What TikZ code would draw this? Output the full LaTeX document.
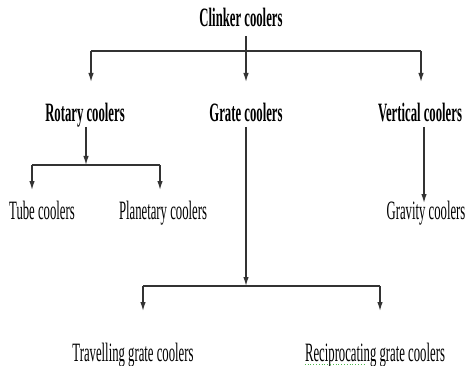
\documentclass[tikz,border=0pt]{standalone}
\usepackage{fontspec}
\setmainfont{Liberation Serif}
\newfontfamily\condfont[FakeStretch=0.48]{Liberation Serif}
\usetikzlibrary{arrows.meta}
\tikzset{
  lbl/.style={inner sep=0pt, anchor=base, font=\condfont\fontsize{26.5}{26.5}\selectfont},
  head/.style={lbl, font=\condfont\bfseries\fontsize{26.5}{26.5}\selectfont},
  ln/.style={draw=black!80, line width=1.3pt},
  arr/.style={ln, -{Latex[length=9pt,width=5.5pt]}}
}
\begin{document}
\begin{tikzpicture}[x=1pt,y=-1pt]
  \useasboundingbox (0,0) rectangle (465,366);

  % labels
  \node[head] (clinker) at (241,27) {Clinker coolers};
  \node[head] (rotary) at (85,122) {Rotary coolers};
  \node[head] (grate) at (246,122) {Grate coolers};
  \node[head] (vertical) at (420,122) {Vertical coolers};
  \node[lbl] (tube) at (42,219) {Tube coolers};
  \node[lbl] (planetary) at (163,219) {Planetary coolers};
  \node[lbl] (gravity) at (426,219) {Gravity coolers};
  \node[lbl] (travelling) at (133,361) {Travelling grate coolers};
  \node[lbl] (recip) at (375,361) {Reciprocating grate coolers};
  % spell-check underline
  \draw[green!60!black!70, line width=0.8pt, dotted] ([yshift=-3pt]recip.base west) -- ++(60,0);

  % branching points and arrow ends
  \coordinate (c0) at (246,36);
  \coordinate (cL) at (91,51);
  \coordinate (cR) at (421,51);
  \coordinate (aL) at (91,82);
  \coordinate (aM) at (246,82);
  \coordinate (aR) at (421,82);

  \coordinate (r0) at (86,127);
  \coordinate (rJ) at (86,165);
  \coordinate (rL) at (32,165);
  \coordinate (rR) at (160,165);
  \coordinate (rLa) at (32,190);
  \coordinate (rRa) at (160,190);

  \coordinate (g0) at (246,127);
  \coordinate (gJ) at (246,286);
  \coordinate (gL) at (143,286);
  \coordinate (gR) at (380,286);
  \coordinate (gLa) at (143,311);
  \coordinate (gRa) at (380,311);

  \coordinate (v0) at (424,127);
  \coordinate (vA) at (424,203);

  % clinker coolers
  \draw[ln] (cL) -- (cR);
  \draw[arr] (c0) -- (aM);
  \draw[arr] (cL) -- (aL);
  \draw[arr] (cR) -- (aR);

  % rotary coolers
  \draw[arr] (r0) -- (rJ);
  \draw[ln] (rL) -- (rR);
  \draw[arr] (rL) -- (rLa);
  \draw[arr] (rR) -- (rRa);

  % grate coolers
  \draw[arr] (g0) -- (gJ);
  \draw[ln] (gL) -- (gR);
  \draw[arr] (gL) -- (gLa);
  \draw[arr] (gR) -- (gRa);

  % vertical coolers
  \draw[arr] (v0) -- (vA);
\end{tikzpicture}
\end{document}
